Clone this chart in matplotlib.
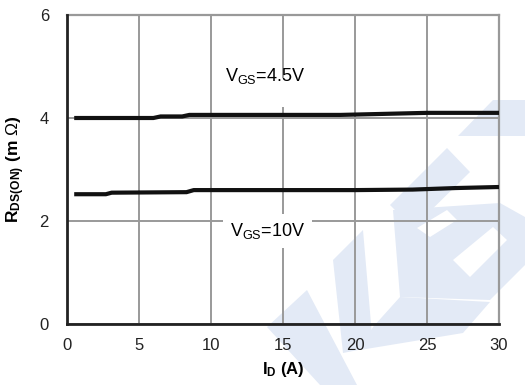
import matplotlib
matplotlib.use("Agg")
import matplotlib.pyplot as plt
from matplotlib.patches import Rectangle, Polygon

plt.rcParams['font.family'] = ['Liberation Sans', 'DejaVu Sans']
plt.rcParams['mathtext.fontset'] = 'custom'
plt.rcParams['mathtext.rm'] = 'Liberation Sans'
plt.rcParams['mathtext.bf'] = 'Liberation Sans:bold'
plt.rcParams['mathtext.it'] = 'Liberation Sans:italic'

# Data
id_45 = [0.5, 6.0, 6.5, 8.0, 8.5, 12, 15, 19, 22, 25, 28, 30]
r_45 = [4.0, 4.0, 4.03, 4.03, 4.06, 4.06, 4.06, 4.06, 4.08, 4.1, 4.1, 4.1]
id_10 = [0.5, 2.7, 3.1, 8.3, 8.8, 12, 15, 20, 24, 27, 30]
r_10 = [2.52, 2.52, 2.55, 2.56, 2.6, 2.6, 2.6, 2.6, 2.61, 2.64, 2.66]

xticks = [0, 5, 10, 15, 20, 25, 30]
yticks = [0, 2, 4, 6]

W, H = 525, 385
fig = plt.figure(figsize=(W / 100, H / 100), dpi=100)

# faint decorative watermark (pixel coordinates of the figure)
wm_color = '#e3eaf6'
wm_shapes = [
    [(458, 136), (493, 100), (525, 100), (525, 136)],
    [(390, 205), (447, 148), (470, 172), (413, 228)],
    [(393, 210), (400, 297), (490, 300), (525, 265), (525, 217), (500, 203)],
    [(333, 260), (363, 230), (373, 347), (343, 353)],
    [(360, 350), (463, 333), (490, 302), (400, 297), (373, 327)],
    [(267, 327), (307, 290), (357, 385), (320, 385)],
]
wm_holes = [
    [(417, 228), (447, 210), (457, 220), (430, 237)],
    [(453, 260), (493, 227), (507, 240), (470, 277)],
]
for pts in wm_shapes:
    fig.patches.append(Polygon([(x / W, 1 - y / H) for x, y in pts], closed=True,
                               facecolor=wm_color, edgecolor='none',
                               transform=fig.transFigure, zorder=-10))
for pts in wm_holes:
    fig.patches.append(Polygon([(x / W, 1 - y / H) for x, y in pts], closed=True,
                               facecolor='white', edgecolor='none',
                               transform=fig.transFigure, zorder=-9))

ax = fig.add_axes([67 / W, 1 - 324 / H, (499 - 67) / W, (324 - 15) / H])
ax.set_facecolor('none')
ax.set_zorder(1)

grid_c = '#999999'
ax.set_xlim(0, 30)
ax.set_ylim(0, 6)
ax.set_xticks(xticks)
ax.set_yticks(yticks)
ax.grid(True, color=grid_c, linewidth=1.4, zorder=1)
ax.set_axisbelow(True)
for s in ['top', 'right']:
    ax.spines[s].set_color(grid_c)
    ax.spines[s].set_linewidth(1.6)
for s in ['left', 'bottom']:
    ax.spines[s].set_color('#222222')
    ax.spines[s].set_linewidth(2.0)
    ax.spines[s].set_zorder(5)
ax.tick_params(length=0, labelsize=12, colors='#222222')
ax.tick_params(axis='y', pad=13)
ax.tick_params(axis='x', pad=10)

ax.plot(id_45, r_45, color='#111111', linewidth=3.0, zorder=4, solid_capstyle='butt')
ax.plot(id_10, r_10, color='#111111', linewidth=3.0, zorder=4, solid_capstyle='butt')

# small white gap in the grid line under the 4.5V label
ax.add_patch(Rectangle((14.8, 4.21), 0.4, 0.57, facecolor='white', edgecolor='none', zorder=2))

ax.text(13.75, 4.82, r'V$_{\mathrm{GS}}$=4.5V', fontsize=13, ha='center', va='center', zorder=6)
ax.text(13.95, 1.8, r'V$_{\mathrm{GS}}$=10V', fontsize=13, ha='center', va='center', zorder=6,
        bbox=dict(facecolor='white', edgecolor='none', pad=5))

ax.set_xlabel(r'$\mathbf{I_{D}}$ (A)', fontsize=12, fontweight='bold', labelpad=5)
ax.set_ylabel(r'$\mathbf{R_{DS(ON)}}$ (m $\Omega$)', fontsize=12.5, fontweight='bold', labelpad=9)

fig.savefig('out.png', dpi=100)
